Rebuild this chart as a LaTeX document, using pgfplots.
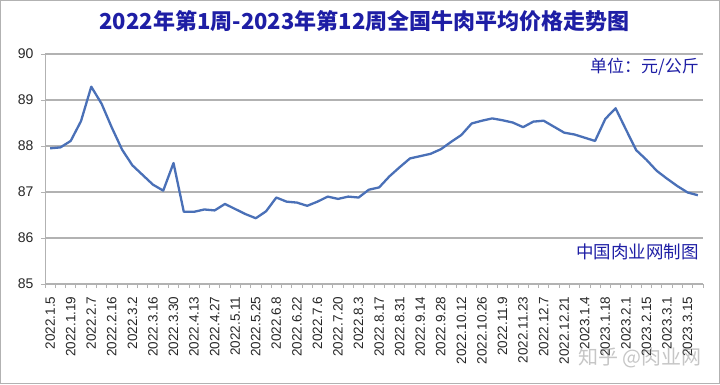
\documentclass[border=0pt]{standalone}
\usepackage{fontspec}
\setmainfont{Liberation Sans}
\newfontfamily\cjk{Noto Sans CJK SC}
\usepackage{pgfplots}
\pgfplotsset{compat=1.18}
\definecolor{titleblue}{RGB}{30,30,165}
\definecolor{lineblue}{RGB}{74,112,183}
\definecolor{gridgray}{RGB}{178,178,178}
\begin{document}
\begin{tikzpicture}
\draw[gridgray, line width=1.2pt] (0.6pt,0.6pt) rectangle (719.4pt,383.4pt);
\begin{axis}[
  at={(45pt,100pt)}, anchor=south west,
  scale only axis, width=658pt, height=230pt,
  xmin=-0.5, xmax=63.5, ymin=85, ymax=90,
  ytick={85,86,87,88,89,90},
  xtick={0,2,...,62},
  xticklabels={2022.1.5,2022.1.19,2022.2.7,2022.2.16,2022.3.2,2022.3.16,2022.3.30,2022.4.13,2022.4.27,2022.5.11,2022.5.25,2022.6.8,2022.6.22,2022.7.6,2022.7.20,2022.8.3,2022.8.17,2022.8.31,2022.9.14,2022.9.28,2022.10.12,2022.10.26,2022.11.9,2022.11.23,2022.12.7,2022.12.21,2023.1.4,2023.1.18,2023.2.1,2023.2.15,2023.3.1,2023.3.15},
  minor xtick={-0.5,0.5,...,63.5},
  axis x line*=bottom, axis y line*=left,
  axis line style={draw=gridgray, line width=1pt, -},
  ymajorgrids, grid style={draw=gridgray, line width=1.1pt},
  major x tick style={draw=none},
  minor x tick style={draw=gridgray, line width=0.8pt},
  ytick style={draw=gridgray, line width=0.8pt},
  tick align=outside, major tick length=4pt, minor tick length=4pt,
  xticklabel style={rotate=90, anchor=east, font=\fontsize{13.5}{14}\selectfont, text=black!85},
  yticklabel style={font=\fontsize{14}{15}\selectfont, text=black!85},
  xticklabel shift=5pt, yticklabel shift=4pt,
  /pgf/number format/assume math mode=true,
  clip=false,
]
\addplot[lineblue, line width=2.3pt, line join=round] table[x=x, y=y] {
x y
0 87.95
1 87.97
2 88.11
3 88.54
4 89.29
5 88.92
6 88.40
7 87.92
8 87.58
9 87.37
10 87.16
11 87.03
12 87.63
13 86.57
14 86.57
15 86.62
16 86.60
17 86.74
18 86.63
19 86.52
20 86.43
21 86.58
22 86.88
23 86.79
24 86.77
25 86.70
26 86.79
27 86.90
28 86.85
29 86.90
30 86.88
31 87.05
32 87.10
33 87.34
34 87.54
35 87.73
36 87.78
37 87.83
38 87.93
39 88.09
40 88.24
41 88.49
42 88.55
43 88.60
44 88.56
45 88.51
46 88.41
47 88.53
48 88.55
49 88.42
50 88.29
51 88.25
52 88.18
53 88.11
54 88.59
55 88.82
56 88.36
57 87.91
58 87.70
59 87.46
60 87.29
61 87.13
62 86.99
63 86.93
};
\end{axis}
\node[anchor=base, text=titleblue, font=\cjk\bfseries\fontsize{22}{25}\selectfont] at (364.5pt,355pt) {2022年第1周-2023年第12周全国牛肉平均价格走势图};
\node[anchor=base east, inner sep=0pt, text=titleblue, font=\cjk\fontsize{17}{19}\selectfont] at (699pt,312pt) {单位：元/公斤};
\node[anchor=base east, inner sep=0pt, text=titleblue, font=\cjk\fontsize{17.5}{19}\selectfont] at (699pt,125.5pt) {中国肉业网制图};
\node[anchor=base east, inner sep=0pt, text=gray, opacity=0.45, font=\cjk\fontsize{20}{22}\selectfont] at (702pt,20pt) {知乎 @肉业网};
\end{tikzpicture}
\end{document}
